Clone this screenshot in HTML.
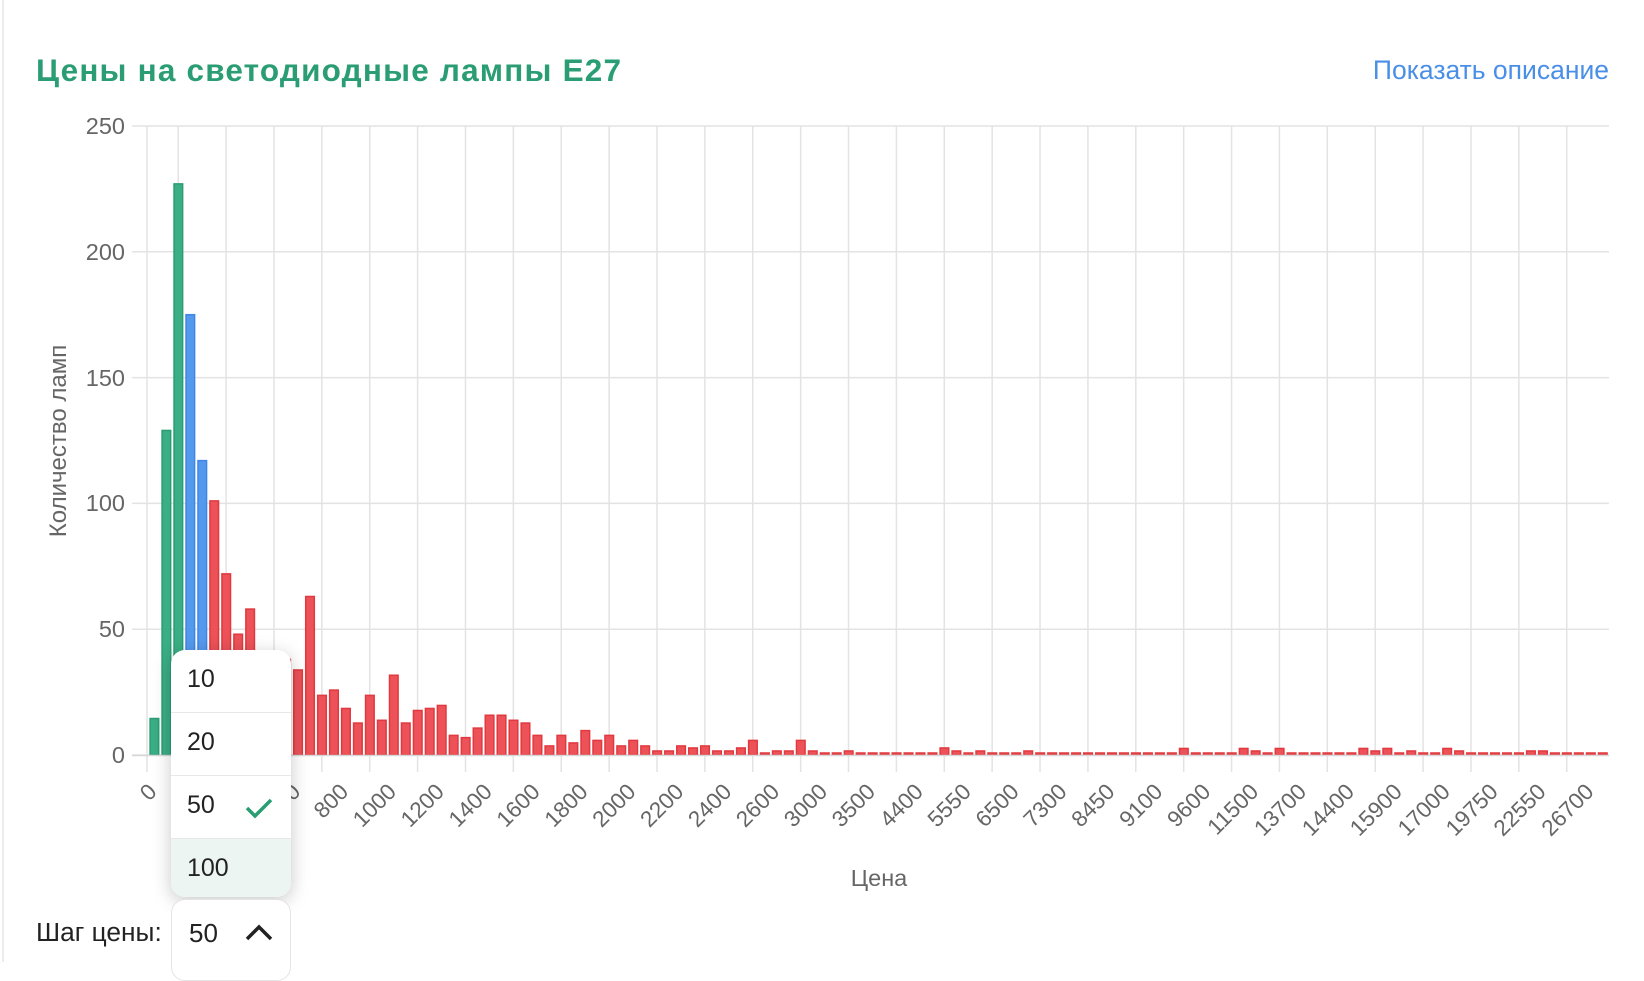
<!DOCTYPE html>
<html><head><meta charset="utf-8"><style>
html,body{margin:0;padding:0;background:#fff;}
body{width:1644px;height:962px;position:relative;overflow:hidden;font-family:"Liberation Sans","Noto Sans CJK SC",sans-serif;}
.edge{position:absolute;left:2px;top:0;width:2px;height:962px;background:#ececec;}
.title{position:absolute;left:36px;top:52px;font-size:31.5px;font-weight:bold;color:#2a9d74;letter-spacing:1.2px;white-space:nowrap;}
.link{position:absolute;right:35px;top:55px;font-size:26.5px;color:#4a8fe7;white-space:nowrap;}
svg{position:absolute;left:0;top:0;}
.dd{position:absolute;left:171px;top:650px;width:120px;height:247px;background:#fff;border-radius:14px;box-shadow:0 4px 18px rgba(0,0,0,0.22);overflow:hidden;}
.it{height:62px;border-bottom:1px solid #e8e8e8;position:relative;font-size:25px;color:#222;}
.it span{position:absolute;left:16px;top:15px;}
.it.sel{background:#edf5f2;border-bottom:none;height:61px;}
.lab{position:absolute;left:36px;top:917px;font-size:26.3px;color:#222;}
.sb{position:absolute;left:171px;top:899px;width:118px;height:80px;border:1px solid #e4e4e4;border-radius:14px;background:#fff;}
.sb span{position:absolute;left:17px;top:18px;font-size:26px;color:#222;}
</style></head><body>
<div class="edge"></div>
<div class="title">Цены на светодиодные лампы E27</div>
<div class="link">Показать описание</div>
<svg width="1644" height="962" xmlns="http://www.w3.org/2000/svg">
<g id="grid" stroke="#e3e3e3" stroke-width="1.5"></g>
<g font-size="23.5" fill="#666" text-anchor="end" font-family="Liberation Sans, sans-serif">
<text x="125" y="134">250</text><text x="125" y="260">200</text><text x="125" y="386">150</text>
<text x="125" y="511">100</text><text x="125" y="637">50</text><text x="125" y="763">0</text>
</g>
<g id="bars"></g>
<g id="xl" font-size="22.5" fill="#666" text-anchor="end" font-family="Liberation Sans, sans-serif">
<text transform="translate(158,793) rotate(-45)">0</text>
<text transform="translate(205.9,793) rotate(-45)">200</text>
<text transform="translate(253.8,793) rotate(-45)">400</text>
<text transform="translate(301.7,793) rotate(-45)">600</text>
<text transform="translate(349.6,793) rotate(-45)">800</text>
<text transform="translate(397.5,793) rotate(-45)">1000</text>
<text transform="translate(445.4,793) rotate(-45)">1200</text>
<text transform="translate(493.3,793) rotate(-45)">1400</text>
<text transform="translate(541.2,793) rotate(-45)">1600</text>
<text transform="translate(589.1,793) rotate(-45)">1800</text>
<text transform="translate(637,793) rotate(-45)">2000</text>
<text transform="translate(684.9,793) rotate(-45)">2200</text>
<text transform="translate(732.8,793) rotate(-45)">2400</text>
<text transform="translate(780.7,793) rotate(-45)">2600</text>
<text transform="translate(828.6,793) rotate(-45)">3000</text>
<text transform="translate(876.5,793) rotate(-45)">3500</text>
<text transform="translate(924.4,793) rotate(-45)">4400</text>
<text transform="translate(972.3,793) rotate(-45)">5550</text>
<text transform="translate(1020.2,793) rotate(-45)">6500</text>
<text transform="translate(1068.1,793) rotate(-45)">7300</text>
<text transform="translate(1116,793) rotate(-45)">8450</text>
<text transform="translate(1163.9,793) rotate(-45)">9100</text>
<text transform="translate(1211.8,793) rotate(-45)">9600</text>
<text transform="translate(1259.7,793) rotate(-45)">11500</text>
<text transform="translate(1307.6,793) rotate(-45)">13700</text>
<text transform="translate(1355.5,793) rotate(-45)">14400</text>
<text transform="translate(1403.4,793) rotate(-45)">15900</text>
<text transform="translate(1451.3,793) rotate(-45)">17000</text>
<text transform="translate(1499.2,793) rotate(-45)">19750</text>
<text transform="translate(1547.1,793) rotate(-45)">22550</text>
<text transform="translate(1595,793) rotate(-45)">26700</text>
</g>
<text x="879" y="886" font-size="23.5" fill="#666" text-anchor="middle" font-family="Liberation Sans, sans-serif">Цена</text>
<text transform="translate(66,441) rotate(-90)" font-size="24" fill="#666" text-anchor="middle" font-family="Liberation Sans, sans-serif">Количество ламп</text>
</svg>
<div class="dd">
<div class="it"><span>10</span></div>
<div class="it"><span>20</span></div>
<div class="it"><span>50</span>
<svg width="30" height="24" style="left:73px;top:20px" viewBox="0 0 30 24"><path d="M3 12 L11 20 L27 4" stroke="#2a9d74" stroke-width="3.5" fill="none"/></svg></div>
<div class="it sel"><span>100</span></div>
</div>
<div class="lab">Шаг цены:</div>
<div class="sb"><span>50</span>
<svg width="30" height="20" style="left:72px;top:23px" viewBox="0 0 30 20"><path d="M3 16 L15 4 L27 16" stroke="#222" stroke-width="3.5" fill="none"/></svg></div>
<script>
var ns="http://www.w3.org/2000/svg";
var g=document.getElementById('grid');
function ln(x1,y1,x2,y2){var l=document.createElementNS(ns,'line');l.setAttribute('x1',x1);l.setAttribute('y1',y1);l.setAttribute('x2',x2);l.setAttribute('y2',y2);g.appendChild(l);}
ln(147,126,147,772);
for(var k=0;k<30;k++){var x=178.2+47.88*k;ln(x,126,x,772);}
for(var j=0;j<6;j++){var y=126+125.8*j;ln(132,y,1609,y);}
var v=[14.5,129,227,175,117,101,72,48,58,35,28,38,33.8,63,23.7,25.8,18.5,12.7,23.7,13.8,31.7,12.7,17.7,18.5,19.7,7.8,6.9,10.7,15.8,15.8,13.8,12.7,7.8,3.6,7.8,4.8,
9.7,5.8,7.8,3.6,5.8,3.6,1.6,1.6,3.6,2.8,3.6,1.6,1.6,2.8,5.8,0.8,1.6,1.6,5.8,1.6,0.8,0.8,1.6,0.8,0.8,0.8,0.8,0.8,0.8,0.8,2.8,1.6,0.8,1.6,0.8,0.8,0.8,1.6,0.8,0.8,0.8,0.8,0.8];
while(v.length<122)v.push(0.8);
var sp={86:2.6,91:2.6,92:1.6,94:2.6,101:2.6,102:1.6,103:2.6,105:1.6,108:2.6,109:1.6,115:1.6,116:1.6};
for(var s in sp)v[s]=sp[s];
var b=document.getElementById('bars');
for(var i=0;i<122;i++){
 var h=v[i]*2.516, c=i<3?['#2a9d74','#3aae84']:(i<5?['#3f87e6','#5599ee']:['#e0393f','#ec5258']);
 var r=document.createElementNS(ns,'rect');
 r.setAttribute('x',148.3+11.97*i+1.8);r.setAttribute('y',755-h);r.setAttribute('width',8.6);r.setAttribute('height',h);
 r.setAttribute('fill',c[1]);r.setAttribute('stroke',c[0]);r.setAttribute('stroke-width',1.5);b.appendChild(r);
}
var bl=document.createElementNS(ns,'line');bl.setAttribute('x1',132);bl.setAttribute('x2',1609);bl.setAttribute('y1',755.5);bl.setAttribute('y2',755.5);bl.setAttribute('stroke','#d8d8d8');bl.setAttribute('stroke-width',1.5);b.appendChild(bl);
</script>
</body></html>
